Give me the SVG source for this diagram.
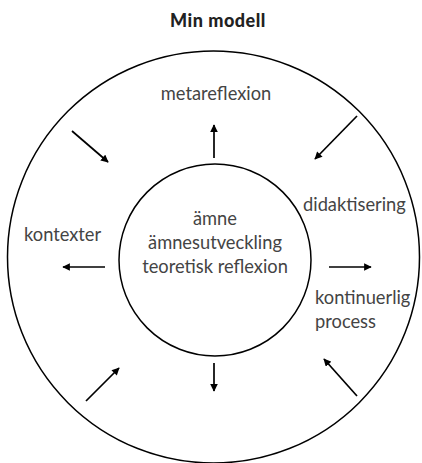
<svg xmlns="http://www.w3.org/2000/svg" width="422" height="463" viewBox="0 0 422 463">
<defs>
<marker id="ah" viewBox="0 0 10 10" refX="9" refY="5" markerWidth="4.8" markerHeight="4.5" markerUnits="strokeWidth" orient="auto">
<path d="M0,0 L10,5 L0,10 z" fill="#000"/>
</marker>
<style>
.t{font-family:Lato,"Noto Sans",sans-serif;font-size:18.3px;fill:#444}
.title{font-family:Lato,"Noto Sans",sans-serif;font-size:18px;font-weight:900;fill:#222;letter-spacing:0.5px}
.c{fill:none;stroke:#000;stroke-width:1.5}
.a{stroke:#000;stroke-width:1.7;fill:none;marker-end:url(#ah)}
</style>
</defs>
<rect width="422" height="463" fill="#fff"/>
<text class="title" x="218" y="27" text-anchor="middle">Min modell</text>
<g id="outer"><circle class="c" cx="213.5" cy="257" r="206"/></g>
<g id="inner"><circle class="c" cx="215" cy="260" r="96"/>
<text class="t" x="215" y="225" text-anchor="middle">ämne</text>
<text class="t" x="215" y="249" text-anchor="middle">ämnesutveckling</text>
<text class="t" x="215" y="273" text-anchor="middle">teoretisk reflexion</text>
</g>
<g id="metareflexion"><text class="t" x="216" y="100" text-anchor="middle">metareflexion</text></g>
<g id="kontexter"><text class="t" x="24" y="241">kontexter</text></g>
<g id="didaktisering"><text class="t" x="303" y="211">didaktisering</text></g>
<g id="process"><text class="t" x="315" y="304">kontinuerlig</text><text class="t" x="315" y="328">process</text></g>
<g id="connectors">
<line class="a" x1="214" y1="158" x2="214" y2="125"/>
<line class="a" x1="72" y1="131" x2="108" y2="162"/>
<line class="a" x1="357" y1="116" x2="315" y2="159"/>
<line class="a" x1="105" y1="267" x2="63" y2="267"/>
<line class="a" x1="329" y1="267" x2="371" y2="267"/>
<line class="a" x1="214" y1="363" x2="214" y2="391"/>
<line class="a" x1="86" y1="401" x2="119" y2="368"/>
<line class="a" x1="357" y1="396" x2="324" y2="359"/>
</g>
</svg>
